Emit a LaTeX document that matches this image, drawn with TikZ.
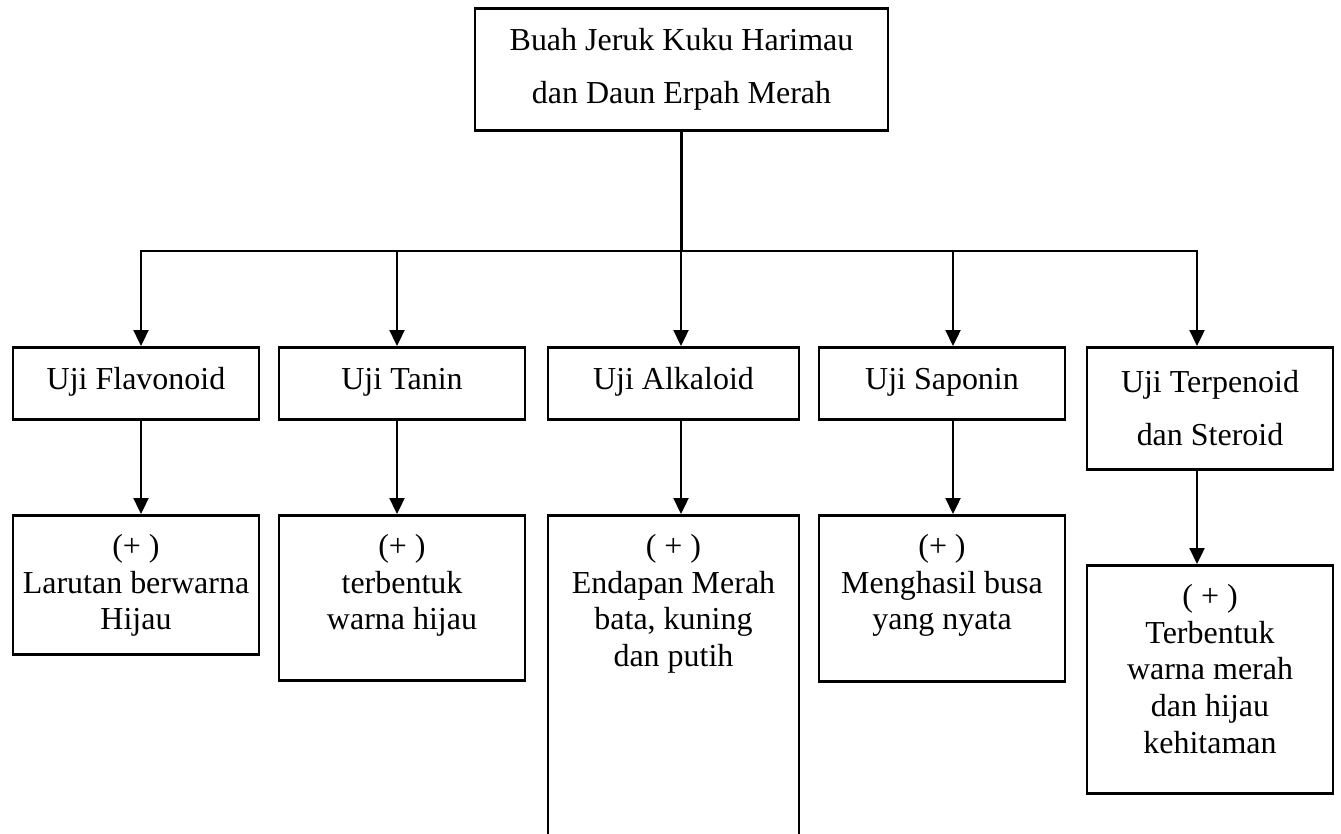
\documentclass[tikz,border=0pt]{standalone}
\usepackage{fontspec}
\setmainfont{Liberation Serif}
\usetikzlibrary{arrows.meta, positioning}
\tikzset{
	kotak/.style={draw, line width=1.5pt, inner sep=0pt, anchor=north,
		minimum width=4.92cm, minimum height=1.44cm},
	teks/.style={kotak, align=center, font=\fontsize{18.2}{30.2}\selectfont},
	uji/.style={teks, text height=0.97em, text depth=0.22em},
	panah/.style={line width=1.3pt, -{Triangle[length=0.32cm, width=0.3cm]}},
	garis/.style={line width=1.3pt, line cap=rect}
}
\newcommand{\hasil}[3]{\parbox[c][#2][t]{#1}{\fontsize{18.2}{20.8}\selectfont\centering\vspace*{11pt}#3}}

\begin{document}
\begin{tikzpicture}[x=0.02cm, y=-0.02cm]
	\useasboundingbox (0,0) rectangle (1341,833);
	
	\node[teks, minimum width=8.26cm, minimum height=2.44cm] (buah) at (681.5,7)
	{Buah Jeruk Kuku Harimau\\dan Daun Erpah Merah};
	
	% uji
	\node[uji] (flav) at (136,346) {Uji Flavonoid};
	\node[uji] (tanin) at (402,346) {Uji Tanin};
	\node[uji, minimum width=5.02cm] (alk) at (673.5,346) {Uji Alkaloid};
	\node[uji] (sap) at (942,346) {Uji Saponin};
	\node[teks, minimum height=2.44cm] (terp) at (1210,346) {Uji Terpenoid\\dan Steroid};
	
	% hasil
	\node[kotak] (hflav) at (136,514) {\hasil{4.92cm}{2.78cm}{(+ )\\Larutan berwarna\\Hijau}};
	\node[kotak] (htanin) at (402,514) {\hasil{4.92cm}{3.3cm}{(+ )\\terbentuk\\warna hijau}};
	\node[kotak] (halk) at (673.5,514) {\hasil{5.02cm}{6.72cm}{( + )\\Endapan Merah\\bata, kuning\\dan putih}};
	\node[kotak] (hsap) at (942,514) {\hasil{4.92cm}{3.32cm}{(+ )\\Menghasil busa\\yang nyata}};
	\node[kotak] (hterp) at (1210,564) {\hasil{4.92cm}{4.56cm}{( + )\\Terbentuk\\warna merah\\dan hijau\\kehitaman}};
	
	\coordinate (k1) at (141,251);
	\coordinate (k2) at (397,251);
	\coordinate (k3) at (681,251);
	\coordinate (k4) at (953,251);
	\coordinate (k5) at (1197,251);
	
	\draw[garis] (buah.south) -- (buah.south |- k1);
	\draw[garis] (k1) -- (k5);
	\foreach \k/\u/\h in {k1/flav/hflav, k2/tanin/htanin, k3/alk/halk, k4/sap/hsap, k5/terp/hterp}{
		\draw[panah] (\k) -- (\k |- \u.north);
		\draw[panah] (\k |- \u.south) -- (\k |- \h.north);
	}
\end{tikzpicture}
\end{document}
